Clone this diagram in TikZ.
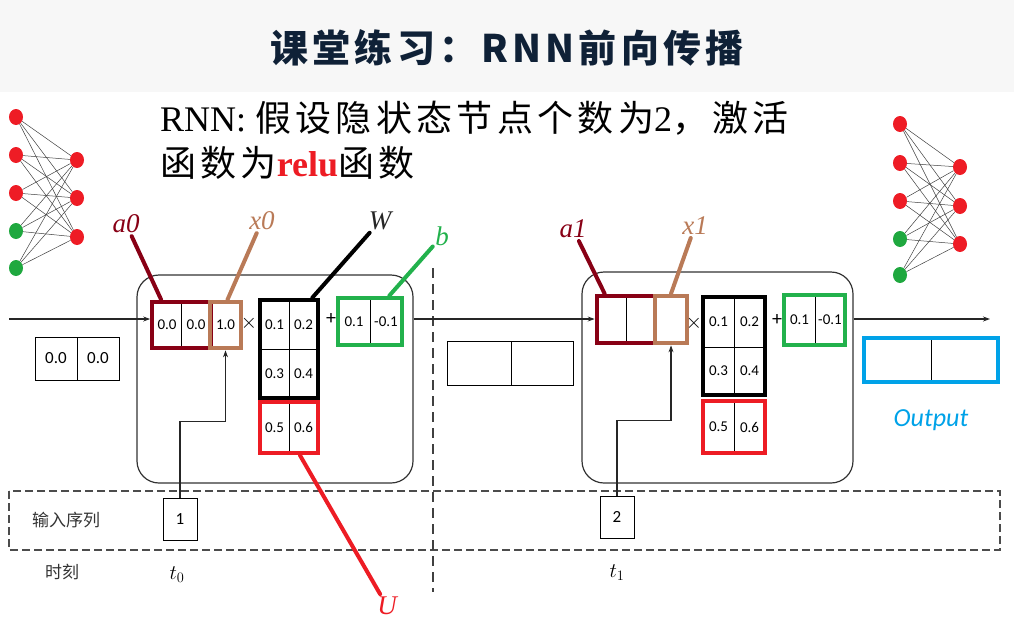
\documentclass[tikz,border=0pt]{standalone}
\usepackage{fontspec}
\setmainfont{Liberation Serif}
\newfontfamily\cjk{Noto Sans CJK SC}
\newfontfamily\cjkwide{Noto Sans CJK SC}[LetterSpace=12]
\newfontfamily\titlefont{Noto Sans CJK SC}[LetterSpace=11]
\newfontfamily\numfont{Carlito}
\usetikzlibrary{arrows.meta,positioning,fit,shapes.geometric}

\definecolor{hdrgrey}{HTML}{F7F7F7}
\definecolor{titleblue}{HTML}{0F2137}
\definecolor{darkred}{HTML}{880015}
\definecolor{tanbrown}{HTML}{B97A57}
\definecolor{pgreen}{HTML}{22B14C}
\definecolor{pred}{HTML}{ED1C24}
\definecolor{pblue}{HTML}{00A2E8}
\definecolor{netred}{HTML}{EE1C25}
\definecolor{netgreen}{HTML}{1FA83F}

\begin{document}
\begin{tikzpicture}[
x=1pt, y=-1pt,
cell/.style={draw, line width=0.7pt, inner sep=0, minimum width=29pt, minimum height=46pt, font=\numfont\fontsize{15}{15}\selectfont},
boxframe/.style={draw, line width=4pt, inner sep=0},
rnncell/.style={draw=black!80, line width=1.2pt, rounded corners=22pt},
leadline/.style={line width=4pt, line cap=round, shorten <=2pt},
lab/.style={font=\itshape\fontsize{27}{27}\selectfont, inner sep=1pt},
arr/.style={-{Stealth[length=7pt,width=5pt]}, line width=1.1pt, black!85},
neuron/.style={ellipse, minimum width=14pt, minimum height=16pt, inner sep=0},
nnline/.style={line width=0.5pt, black!75},
opsign/.style={font=\numfont\fontsize{20}{20}\selectfont},
bandline/.style={line width=1.6pt, black!70, dash pattern=on 8pt off 4pt}
]
\useasboundingbox (0,0) rectangle (1014,630);
\fill[hdrgrey] (0,0) rectangle (1014,92);

% title and task text
\node[font=\titlefont\bfseries\fontsize{38}{38}\selectfont, text=titleblue] (title) at (507,48) {课堂练习：RNN前向传播};
\node[anchor=west, align=left, inner sep=0, font=\fontsize{36}{45}\selectfont] (intro) at (160,140)
  {RNN: {\cjkwide 假设隐状态节点个数为}2{\cjkwide ，激活}\\{\cjkwide 函数为}{\color{pred}\bfseries relu}{\cjkwide 函数}};

% small networks
\foreach \y/\c [count=\i] in {117/netred,155/netred,193/netred,231/netgreen,268/netgreen}
  \node[neuron, fill=\c] (la\i) at (16,\y) {};
\foreach \y [count=\j] in {160,198,237}
  \node[neuron, fill=netred] (lb\j) at (77,\y) {};
\foreach \y/\c [count=\i] in {124/netred,163/netred,201/netred,239/netgreen,275/netgreen}
  \node[neuron, fill=\c] (ra\i) at (900,\y) {};
\foreach \y [count=\j] in {167,206,244}
  \node[neuron, fill=netred] (rb\j) at (960,\y) {};
\foreach \i in {1,...,5}
  \foreach \j in {1,...,3} {
    \draw[nnline] (la\i) -- (lb\j);
    \draw[nnline] (ra\i) -- (rb\j);
  }

% time step t0
\node[rnncell, minimum width=276pt, minimum height=208pt] (c1) at (275,379) {};
\node[cell] (a0l) at (167,325) {0.0};
\node[cell] (a0r) at (196,325) {0.0};
\node[boxframe, draw=darkred, fit=(a0l)(a0r)] (a0f) {};
\node[cell, minimum width=30pt] (x0c) at (225.5,325) {1.0};
\node[boxframe, draw=tanbrown, fit=(x0c)] (x0f) {};
\node[opsign] (mul1) at (249,323) {$\times$};
\node[cell, minimum height=49pt] (w11) at (274.5,324.5) {0.1};
\node[cell, minimum height=49pt] (w12) at (303.5,324.5) {0.2};
\node[cell, minimum height=49pt] (w21) at (274.5,373.5) {0.3};
\node[cell, minimum height=49pt] (w22) at (303.5,373.5) {0.4};
\node[boxframe, draw=black, fit=(w11)(w22)] (w1f) {};
\node[cell, minimum height=51pt] (u11) at (274.5,427.5) {0.5};
\node[cell, minimum height=51pt] (u12) at (303.5,427.5) {0.6};
\node[boxframe, draw=pred, fit=(u11)(u12)] (u1f) {};
\node[opsign] (add1) at (331,319) {+};
\node[cell, minimum width=32pt, minimum height=47pt] (b11) at (354,321.5) {0.1};
\node[cell, minimum width=32pt, minimum height=47pt] (b12) at (386,321.5) {-0.1};
\node[boxframe, draw=pgreen, fit=(b11)(b12)] (b1f) {};

% time step t1
\node[rnncell, minimum width=271pt, minimum height=211pt] (c2) at (717.5,377.5) {};
\node[cell, minimum height=47pt] (a1l) at (611.5,319.5) {};
\node[cell, minimum height=47pt] (a1r) at (640.5,319.5) {};
\node[boxframe, draw=darkred, fit=(a1l)(a1r)] (a1f) {};
\node[cell, minimum width=32pt, minimum height=47pt] (x1c) at (671,319.5) {};
\node[boxframe, draw=tanbrown, fit=(x1c)] (x1f) {};
\node[opsign] (mul2) at (694,323) {$\times$};
\node[cell, minimum width=31pt, minimum height=50pt] (w211) at (718.5,322) {0.1};
\node[cell, minimum width=31pt, minimum height=50pt] (w212) at (749.5,322) {0.2};
\node[cell, minimum width=31pt, minimum height=48pt] (w221) at (718.5,371) {0.3};
\node[cell, minimum width=31pt, minimum height=48pt] (w222) at (749.5,371) {0.4};
\node[boxframe, draw=black, fit=(w211)(w222)] (w2f) {};
\node[cell, minimum width=31pt, minimum height=52pt] (u21) at (718.5,427) {0.5};
\node[cell, minimum width=31pt, minimum height=52pt] (u22) at (749.5,427) {0.6};
\node[boxframe, draw=pred, fit=(u21)(u22)] (u2f) {};
\node[opsign] (add2) at (777,320) {+};
\node[cell, minimum width=31pt, minimum height=50pt] (b21) at (799.5,320) {0.1};
\node[cell, minimum width=30pt, minimum height=50pt] (b22) at (830,320) {-0.1};
\node[boxframe, draw=pgreen, fit=(b21)(b22)] (b2f) {};

% hidden states outside the cells
\node[cell, line width=1pt, minimum width=42pt, minimum height=43pt, font=\numfont\fontsize{17}{17}\selectfont] (h0l) at (56,358.5) {0.0};
\node[cell, line width=1pt, minimum width=42pt, minimum height=43pt, font=\numfont\fontsize{17}{17}\selectfont] (h0r) at (98,358.5) {0.0};
\node[cell, line width=1pt, minimum width=64pt, minimum height=44pt] (h1l) at (479,363) {};
\node[cell, line width=1pt, minimum width=62pt, minimum height=44pt] (h1r) at (542,363) {};
\node[cell, minimum width=67pt, minimum height=44pt] (o1) at (897.5,360) {};
\node[cell, minimum width=67pt, minimum height=44pt] (o2) at (964.5,360) {};
\node[boxframe, draw=pblue, fit=(o1)(o2)] (of) {};
\node[font=\numfont\itshape\fontsize{26}{26}\selectfont, text=pblue] (outlab) at (931,420) {Output};

% input sequence band
\draw[bandline] (9,491) rectangle (1000,550);
\draw[line width=1.6pt, black!75, dash pattern=on 10pt off 6pt] (433,268) -- (433,592);
\node[font=\cjk\fontsize{17}{17}\selectfont, text=black!80] (seqlab) at (66,520) {输入序列};
\node[font=\cjk\fontsize{17}{17}\selectfont, text=black!80] (timelab) at (62,572) {时刻};
\node[draw, line width=1pt, minimum width=34pt, minimum height=42pt, font=\numfont\fontsize{17}{17}\selectfont] (in1) at (180,519) {1};
\node[draw, line width=1pt, minimum width=34pt, minimum height=42pt, font=\numfont\fontsize{17}{17}\selectfont] (in2) at (617,517) {2};
\node[font=\fontsize{20}{20}\selectfont] (t0) at (177,575) {$t_0$};
\node[font=\fontsize{20}{20}\selectfont] (t1) at (617,573) {$t_1$};

% flow arrows
\coordinate (hin) at (9,319);
\coordinate (hout) at (990,319);
\draw[arr] (hin) -- (hin -| a0f.west);
\draw[arr] (c1.east |- hin) -- (hin -| a1f.west);
\draw[arr] (c2.east |- hout) -- (hout);
\draw[arr] (in1.north) -- ++(0,-76) -| (x0f.south);
\draw[arr] (in2.north) -- ++(0,-75) -| (x1f.south);

% parameter labels
\node[lab, text=darkred] (la0) at (126,224) {a0};
\node[lab, text=tanbrown] (lx0) at (262,221) {x0};
\node[lab, text=black!85] (lw) at (380,221) {W};
\node[lab, text=pgreen] (lbias) at (442,236) {b};
\node[lab, text=darkred] (la1) at (573,229) {a1};
\node[lab, text=tanbrown] (lx1) at (695,226) {x1};
\node[lab, text=pred] (lu) at (387,606) {U};
\draw[leadline, darkred] (la0) -- ([xshift=11pt]a0f.north west);
\draw[leadline, tanbrown] (lx0) -- ([xshift=2pt]x0f.north);
\draw[leadline, black] (lw) -- ([xshift=-8pt]w1f.north east);
\draw[leadline, pgreen] (lbias) -- ([xshift=-15pt]b1f.north east);
\draw[leadline, darkred] (la1) -- ([xshift=10pt]a1f.north west);
\draw[leadline, tanbrown] (lx1) -- (x1f.north);
\draw[leadline, pred] (lu) -- ([xshift=11pt]u1f.south);

\end{tikzpicture}
\end{document}
